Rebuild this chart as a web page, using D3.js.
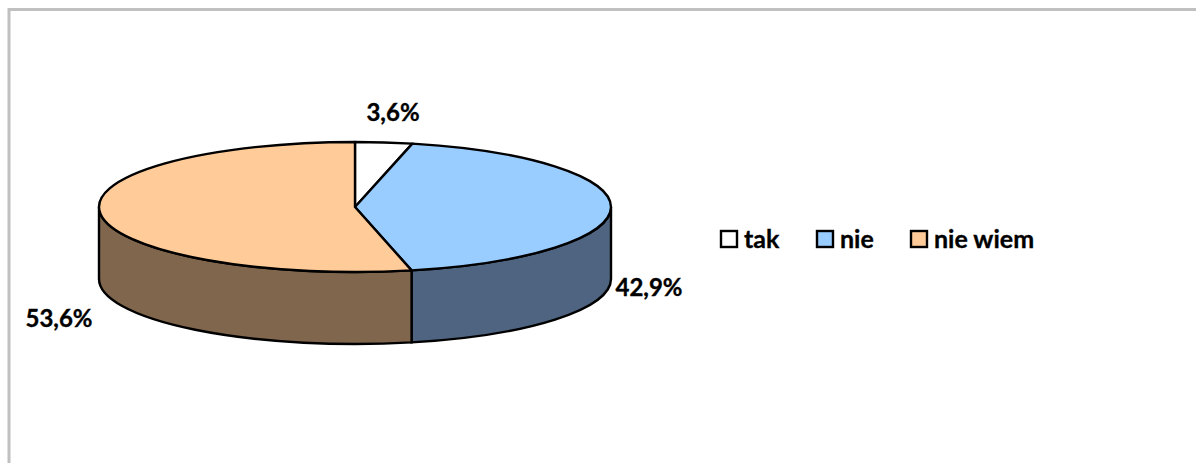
<!DOCTYPE html>
<html>
<head>
<meta charset="utf-8">
<script src="https://cdnjs.cloudflare.com/ajax/libs/d3/7.8.5/d3.min.js"></script>
<style>
  html, body { margin: 0; padding: 0; background: #fff; }
  svg { display: block; }
  text { font-family: Lato, "Open Sans", sans-serif; font-weight: 700; fill: #000; stroke: #000; stroke-width: 0.35px; }
</style>
</head>
<body>
<svg id="chart" width="1196" height="463"></svg>
<script>
const categories = ["tak", "nie", "nie wiem"];
const values = [3.6, 42.9, 53.6];
const valueLabels = ["3,6%", "42,9%", "53,6%"];
const topColors = ["#ffffff", "#99ccff", "#ffcc99"];
const sideColors = ["#808080", "#4f6480", "#80664d"];

const width = 1196, height = 463;
const cx = 355, cy = 207, rx = 256, ry = 65, depth = 72;

const svg = d3.select("#chart");

// frame, only top and left show in the crop
svg.append("path")
  .attr("d", `M9,${height}V9.5H${width}`)
  .attr("fill", "none")
  .attr("stroke", "#c0c0c0")
  .attr("stroke-width", 3);

const pie = d3.pie().sort(null).value(d => d);
const slices = pie(values);

const px = a => cx + rx * Math.sin(a);
const py = (a, dy = 0) => cy - ry * Math.cos(a) + dy;

// front wall, only the part between 90 and 270 degrees is visible
const wall = svg.append("g");
slices.forEach((s, i) => {
  const a0 = Math.max(s.startAngle, Math.PI / 2);
  const a1 = Math.min(s.endAngle, Math.PI * 3 / 2);
  if (a1 <= a0) return;
  const d = `M${px(a0)},${py(a0)}` +
    `A${rx},${ry} 0 0 1 ${px(a1)},${py(a1)}` +
    `V${py(a1, depth)}` +
    `A${rx},${ry} 0 0 0 ${px(a0)},${py(a0, depth)}Z`;
  wall.append("path")
    .attr("d", d)
    .attr("fill", sideColors[i])
    .attr("stroke", "#000")
    .attr("stroke-width", 2.4);
});

// top face, d3.arc squashed to an ellipse
const arc = d3.arc().innerRadius(0).outerRadius(rx);
svg.append("g")
  .attr("transform", `translate(${cx},${cy}) scale(1,${ry / rx})`)
  .selectAll("path")
  .data(slices)
  .join("path")
  .attr("d", arc)
  .attr("fill", (d, i) => topColors[i])
  .attr("stroke", "#000")
  .attr("stroke-width", 2.4)
  .attr("stroke-linejoin", "round")
  .attr("vector-effect", "non-scaling-stroke");

// value labels
const labelPos = [[393, 113], [649, 288], [59, 319]];
svg.selectAll("text.value")
  .data(valueLabels)
  .join("text")
  .attr("class", "value")
  .attr("x", (d, i) => labelPos[i][0])
  .attr("y", (d, i) => labelPos[i][1])
  .attr("dy", "0.35em")
  .attr("text-anchor", "middle")
  .attr("font-size", 24)
  .text(d => d);

// legend
const legendX = [721, 817, 911];
const legend = svg.selectAll("g.legend")
  .data(categories)
  .join("g")
  .attr("class", "legend")
  .attr("transform", (d, i) => `translate(${legendX[i]},231)`);
legend.append("rect")
  .attr("width", 16)
  .attr("height", 16)
  .attr("fill", (d, i) => topColors[i])
  .attr("stroke", "#000")
  .attr("stroke-width", 2.4);
legend.append("text")
  .attr("x", 23)
  .attr("y", 8)
  .attr("dy", "0.35em")
  .attr("font-size", 25)
  .text(d => d);
</script>
</body>
</html>
